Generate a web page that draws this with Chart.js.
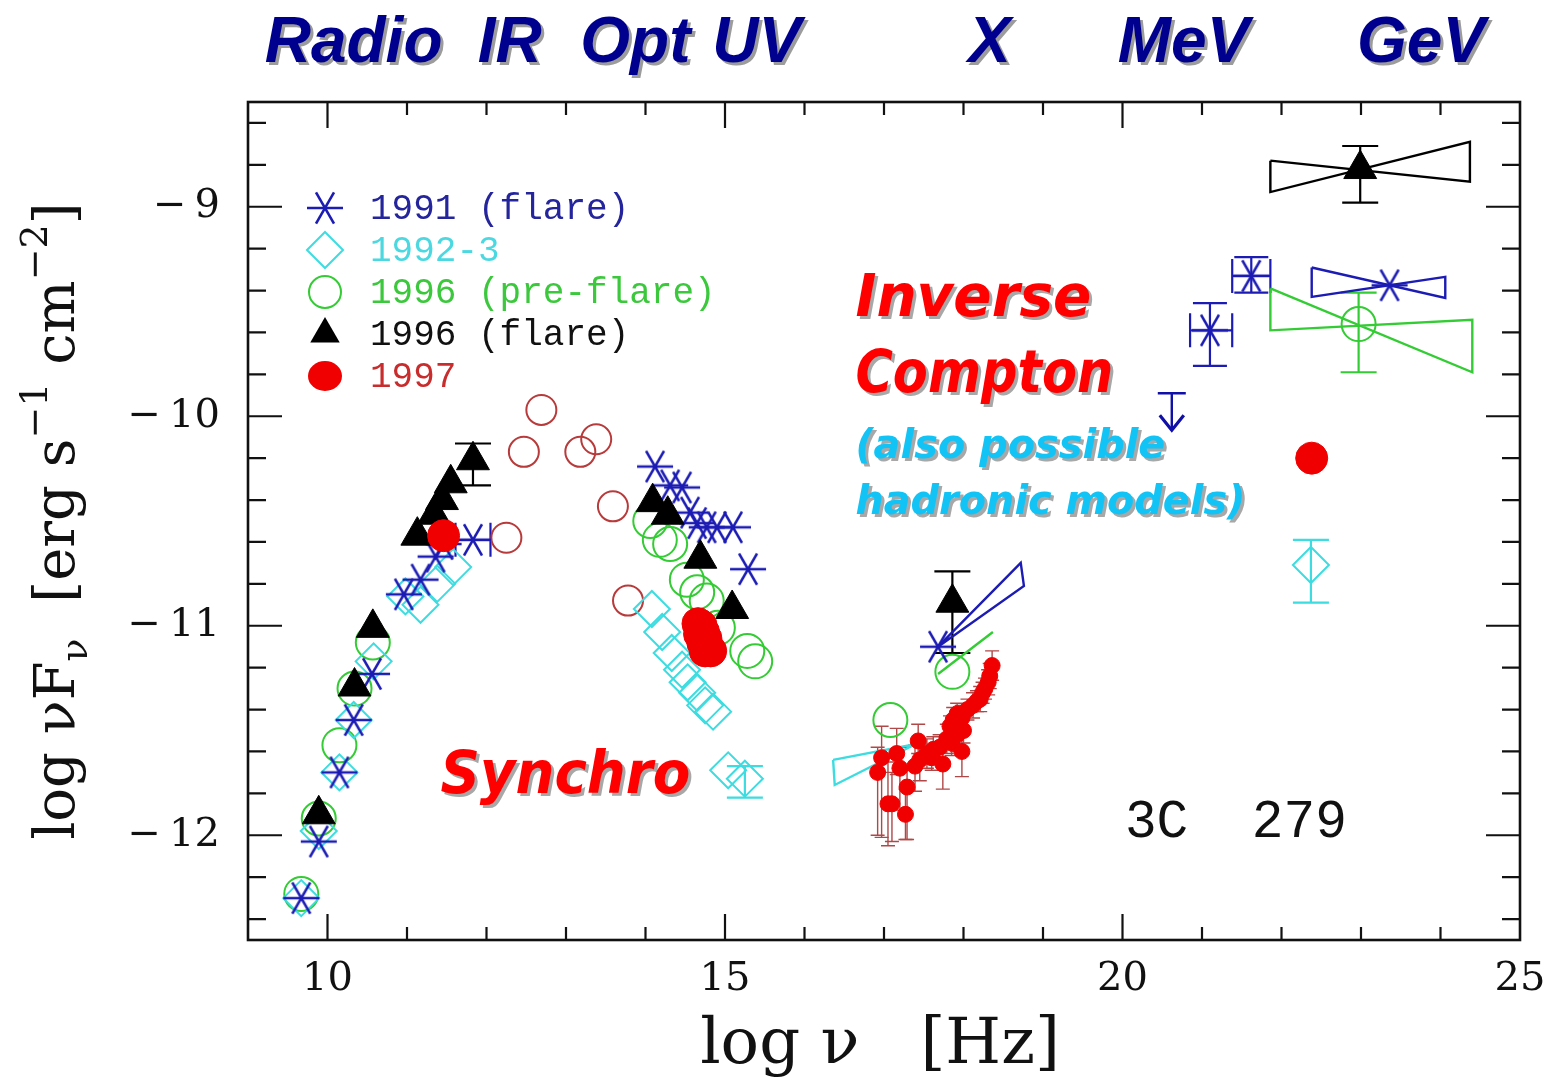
<!DOCTYPE html>
<html>
<head>
<meta charset="utf-8">
<title>3C 279 spectral energy distribution</title>
<script src="https://cdn.jsdelivr.net/npm/chart.js@4.4.1/dist/chart.umd.min.js"></script>
<style>
  html, body { margin: 0; padding: 0; background: #ffffff; }
  canvas { display: block; }
</style>
</head>
<body>
<canvas id="sed" width="1554" height="1077"></canvas>
<script>
// ---------------------------------------------------------------------------
// 3C 279 multiwavelength SED: log nu [Hz] against log nuF_nu [erg s^-1 cm^-2]
// Error extents are [minus, plus], keyed by point index.
// ---------------------------------------------------------------------------

// 1991 (flare) - asterisks
const nu1991   = [9.67, 9.89, 10.15, 10.33, 10.56, 10.96, 11.17, 11.36, 11.46, 11.83,
                  14.12, 14.31, 14.46, 14.56, 14.65, 14.77, 14.90, 15.10, 15.29,
                  17.68, 21.10, 21.62, 23.36];
const flux1991 = [-12.30, -12.03, -11.70, -11.45, -11.23, -10.85, -10.78, -10.67, -10.61, -10.59,
                  -10.24, -10.33, -10.34, -10.46, -10.51, -10.53, -10.53, -10.53, -10.73,
                  -11.10, -9.59, -9.33, -9.375];
const nuErr1991   = { 9: [0.22, 0.22], 20: [0.25, 0.28], 21: [0.24, 0.24] };
const fluxErr1991 = { 20: [0.17, 0.13], 21: [0.08, 0.09] };
const nuLimit1991   = [20.62];
const fluxLimit1991 = [-9.89];
const bowX1991Nu   = [17.68, 18.72, 18.76, 17.68];
const bowX1991Flux = [-11.10, -10.70, -10.81, -11.10];
const bowG1991Nu   = [22.38, 24.06, 24.06, 22.38, 22.38];
const bowG1991Flux = [-9.29, -9.435, -9.335, -9.43, -9.29];

// 1992-3 - diamonds
const nu1992   = [9.67, 9.89, 10.15, 10.33, 10.58, 10.98, 11.17, 11.38, 11.58,
                  14.08, 14.21, 14.33, 14.46, 14.53, 14.65, 14.75, 14.85, 15.04, 15.25,
                  22.37];
const flux1992 = [-12.30, -11.98, -11.70, -11.45, -11.17, -10.86, -10.90, -10.80, -10.72,
                  -10.92, -11.03, -11.13, -11.21, -11.27, -11.32, -11.38, -11.41, -11.69, -11.73,
                  -10.71];
const fluxErr1992 = { 18: [0.09, 0.06], 19: [0.18, 0.12] };
const bowX1992Nu   = [16.36, 17.40, 16.38, 16.36];
const bowX1992Flux = [-11.64, -11.565, -11.76, -11.64];

// 1996 (pre-flare) - open circles
const nu1996p   = [9.67, 9.89, 10.15, 10.34, 10.57,
                   14.06, 14.18, 14.31, 14.52, 14.65, 14.77, 14.91, 15.28, 15.38,
                   17.08, 17.86, 22.97];
const flux1996p = [-12.28, -11.92, -11.57, -11.30, -11.08,
                   -10.50, -10.59, -10.61, -10.78, -10.84, -10.88, -11.01, -11.12, -11.17,
                   -11.45, -11.22, -9.56];
const fluxErr1996p = { 16: [0.23, 0.15] };
const slopeX1996pNu   = [17.68, 18.37];
const slopeX1996pFlux = [-11.23, -11.03];
const bowG1996pNu   = [21.86, 24.40, 24.40, 21.86, 21.86];
const bowG1996pFlux = [-9.39, -9.79, -9.54, -9.59, -9.39];

// 1996 (flare) - filled triangles
const nu1996f   = [9.89, 10.34, 10.57, 11.13, 11.34, 11.44, 11.55, 11.83,
                   14.09, 14.28, 14.69, 15.09, 17.86, 22.99];
const flux1996f = [-11.90, -11.29, -11.01, -10.57, -10.47, -10.40, -10.32, -10.21,
                   -10.41, -10.47, -10.68, -10.92, -10.89, -8.82];
const fluxErr1996f = { 7: [0.12, 0.08], 12: [0.24, 0.15], 13: [0.16, 0.11] };
const bowG1996fNu   = [21.86, 24.37, 24.37, 21.86, 21.86];
const bowG1996fFlux = [-8.78, -8.88, -8.69, -8.93, -8.78];

// 1997 - filled circles (radio, optical, gamma)
const nu1997   = [11.46, 14.66, 14.70, 14.73, 14.68, 14.76, 14.72, 14.78, 14.82, 14.75, 22.38];
const flux1997 = [-10.57, -10.99, -11.00, -11.03, -11.04, -11.06, -11.08, -11.10, -11.12, -11.12, -10.20];

// 1997 - X-ray spectrum
const nuX1997   = [18.36, 18.33, 18.31, 18.27, 18.24, 18.21, 18.17, 18.12, 18.05, 17.98,
                   17.92, 17.87, 17.83, 17.92, 17.79, 17.70, 17.62, 17.98, 17.54, 17.43,
                   17.45, 17.74, 17.39, 17.16, 17.20, 16.97, 16.92, 17.29, 17.05, 17.10,
                   17.27, 17.60, 17.85, 18.00];
const fluxX1997 = [-11.19, -11.24, -11.27, -11.30, -11.32, -11.35, -11.36, -11.38, -11.40, -11.44,
                   -11.42, -11.45, -11.48, -11.52, -11.54, -11.58, -11.59, -11.60, -11.61, -11.55,
                   -11.64, -11.66, -11.67, -11.61, -11.68, -11.63, -11.70, -11.77, -11.85, -11.85,
                   -11.90, -11.63, -11.56, -11.50];
const errLoX1997 = [0.07, 0.06, 0.06, 0.05, 0.05, 0.06, 0.05, 0.06, 0.05, 0.06,
                    0.05, 0.06, 0.05, 0.08, 0.07, 0.06, 0.06, 0.12, 0.07, 0.06,
                    0.10, 0.12, 0.12, 0.10, 0.20, 0.38, 0.30, 0.25, 0.20, 0.18,
                    0.12, 0.06, 0.06, 0.06];
const errHiX1997 = [0.07, 0.06, 0.06, 0.05, 0.05, 0.06, 0.05, 0.06, 0.05, 0.06,
                    0.05, 0.06, 0.05, 0.08, 0.07, 0.06, 0.06, 0.10, 0.07, 0.08,
                    0.08, 0.08, 0.10, 0.12, 0.10, 0.15, 0.12, 0.10, 0.20, 0.15,
                    0.12, 0.06, 0.06, 0.06];

// earlier far-IR / optical points (open circles, not in the key)
const nuEarly   = [12.25, 12.47, 12.69, 13.18, 13.38, 13.59, 13.78];
const fluxEarly = [-10.58, -10.17, -9.97, -10.17, -10.11, -10.43, -10.88];

// axes
const xTickLabels = [10, 15, 20, 25];
const yTickLabels = [-9, -10, -11, -12];

// waveband names along the top and where they start (log nu)
const bandNames = ['Radio', 'IR', 'Opt', 'UV', 'X', 'MeV', 'GeV'];
const bandStart = [9.21, 11.89, 13.18, 14.84, 18.06, 19.94, 22.95];

// ---------------------------------------------------------------------------
const BLUE = '#1c1cb4', CYAN = '#3cdce0', GREEN = '#34cc34', BLACK = '#000000',
      RED = '#f00000', BROWN = '#b83a3a', BAND_BLUE = '#00008e';

function makeAsterisk(color, size, lw) {
  const c = document.createElement('canvas');
  c.width = size; c.height = size;
  const g = c.getContext('2d');
  g.strokeStyle = color; g.lineWidth = lw;
  const m = size / 2, r = size / 2 - 1;
  for (const deg of [0, 60, 120]) {
    const t = deg * Math.PI / 180;
    g.beginPath();
    g.moveTo(m - r * Math.cos(t), m - r * Math.sin(t));
    g.lineTo(m + r * Math.cos(t), m + r * Math.sin(t));
    g.stroke();
  }
  return c;
}
const STAR = makeAsterisk(BLUE, 38, 2.6);

const pts = (xs, ys) => xs.map((x, i) => ({ x, y: ys[i] }));

function markerSet(label, xs, ys, style) {
  return Object.assign({ label, data: pts(xs, ys), showLine: false, pointBorderWidth: 2 }, style);
}
function outline(label, xs, ys, color) {
  return { label, data: pts(xs, ys), showLine: true, pointRadius: 0, borderColor: color,
           borderWidth: 2.4, fill: false, tension: 0 };
}

// first dataset is drawn on top
const datasets = [
  markerSet('1997', nu1997, flux1997,
    { pointStyle: 'circle', pointRadius: 16, backgroundColor: RED, borderColor: RED, pointBorderWidth: 1 }),
  markerSet('1997 X-ray', nuX1997, fluxX1997,
    { pointStyle: 'circle', pointRadius: 8, backgroundColor: RED, borderColor: RED, pointBorderWidth: 1 }),
  markerSet('1996 (flare)', nu1996f, flux1996f,
    { pointStyle: 'triangle', pointRadius: 19, backgroundColor: BLACK, borderColor: BLACK, pointBorderWidth: 1 }),
  markerSet('1991 (flare)', nu1991, flux1991,
    { pointStyle: STAR, pointRadius: 19, backgroundColor: 'rgba(0,0,0,0)', borderColor: BLUE }),
  markerSet('1992-3', nu1992, flux1992,
    { pointStyle: 'rectRot', pointRadius: 18, backgroundColor: 'rgba(0,0,0,0)', borderColor: CYAN }),
  markerSet('1996 (pre-flare)', nu1996p, flux1996p,
    { pointStyle: 'circle', pointRadius: 17, backgroundColor: 'rgba(0,0,0,0)', borderColor: GREEN }),
  markerSet('earlier', nuEarly, fluxEarly,
    { pointStyle: 'circle', pointRadius: 15, backgroundColor: 'rgba(0,0,0,0)', borderColor: BROWN }),
  outline('1991 X-ray slope', bowX1991Nu, bowX1991Flux, BLUE),
  outline('1991 gamma slope', bowG1991Nu, bowG1991Flux, BLUE),
  outline('1992-3 X-ray slope', bowX1992Nu, bowX1992Flux, CYAN),
  outline('1996 pre-flare X-ray slope', slopeX1996pNu, slopeX1996pFlux, GREEN),
  outline('1996 pre-flare gamma slope', bowG1996pNu, bowG1996pFlux, GREEN),
  outline('1996 flare gamma slope', bowG1996fNu, bowG1996fFlux, BLACK)
];

// ---------------------------------------------------------------------------
function drawErrors(ctx, chart, xs, ys, xErr, yErr, color, cap, lw) {
  const sx = chart.scales.x, sy = chart.scales.y;
  ctx.save();
  ctx.strokeStyle = color; ctx.lineWidth = lw;
  xs.forEach((v, i) => {
    const px = sx.getPixelForValue(v), py = sy.getPixelForValue(ys[i]);
    const ex = xErr && xErr[i], ey = yErr && yErr[i];
    ctx.beginPath();
    if (ex) {
      const a = sx.getPixelForValue(v - ex[0]), b = sx.getPixelForValue(v + ex[1]);
      ctx.moveTo(a, py); ctx.lineTo(b, py);
      ctx.moveTo(a, py - cap); ctx.lineTo(a, py + cap);
      ctx.moveTo(b, py - cap); ctx.lineTo(b, py + cap);
    }
    if (ey) {
      const a = sy.getPixelForValue(ys[i] - ey[0]), b = sy.getPixelForValue(ys[i] + ey[1]);
      ctx.moveTo(px, a); ctx.lineTo(px, b);
      ctx.moveTo(px - cap, a); ctx.lineTo(px + cap, a);
      ctx.moveTo(px - cap, b); ctx.lineTo(px + cap, b);
    }
    ctx.stroke();
  });
  ctx.restore();
}

function drawMarker(ctx, kind, x, y) {
  ctx.save();
  ctx.lineWidth = 2;
  ctx.beginPath();
  if (kind === 'star') {
    ctx.drawImage(STAR, x - STAR.width / 2, y - STAR.height / 2);
  } else if (kind === 'diamond') {
    ctx.strokeStyle = CYAN;
    ctx.moveTo(x - 18, y); ctx.lineTo(x, y - 18); ctx.lineTo(x + 18, y); ctx.lineTo(x, y + 18);
    ctx.closePath(); ctx.stroke();
  } else if (kind === 'ring') {
    ctx.strokeStyle = GREEN;
    ctx.arc(x, y, 16, 0, Math.PI * 2); ctx.stroke();
  } else if (kind === 'triangle') {
    ctx.fillStyle = BLACK;
    const r = 17;
    ctx.moveTo(x, y - r); ctx.lineTo(x + r * 0.866, y + r / 2); ctx.lineTo(x - r * 0.866, y + r / 2);
    ctx.closePath(); ctx.fill();
  } else if (kind === 'dot') {
    ctx.fillStyle = RED;
    ctx.ellipse(x, y, 17, 15, 0, 0, Math.PI * 2); ctx.fill();
  }
  ctx.restore();
}

const legendRows = [
  { text: '1991 (flare)',      marker: 'star',     color: '#24249c' },
  { text: '1992-3',            marker: 'diamond',  color: '#4cd8e0' },
  { text: '1996 (pre-flare)',  marker: 'ring',     color: '#3cc83c' },
  { text: '1996 (flare)',      marker: 'triangle', color: '#111111' },
  { text: '1997',              marker: 'dot',      color: '#c82c2c' }
];

function shadowText(ctx, text, x, y, color, shadow, off, maxW) {
  ctx.fillStyle = shadow;
  if (maxW) ctx.fillText(text, x + off, y + off, maxW); else ctx.fillText(text, x + off, y + off);
  ctx.fillStyle = color;
  if (maxW) ctx.fillText(text, x, y, maxW); else ctx.fillText(text, x, y);
}

const sedDecor = {
  id: 'sedDecor',
  beforeDatasetsDraw(chart) {
    const ctx = chart.ctx;
    drawErrors(ctx, chart, nuX1997, fluxX1997, null,
      nuX1997.map((_, i) => [errLoX1997[i], errHiX1997[i]]), '#b04848', 7, 1.4);
    drawErrors(ctx, chart, nu1991, flux1991, nuErr1991, fluxErr1991, BLUE, 17, 2.2);
    drawErrors(ctx, chart, nu1992, flux1992, null, fluxErr1992, CYAN, 18, 2.2);
    drawErrors(ctx, chart, nu1996p, flux1996p, null, fluxErr1996p, GREEN, 18, 2.2);
    drawErrors(ctx, chart, nu1996f, flux1996f, null, fluxErr1996f, BLACK, 18, 2.2);
  },
  afterDatasetsDraw(chart) {
    const ctx = chart.ctx, sx = chart.scales.x, sy = chart.scales.y;
    const { left, right, top, bottom } = chart.chartArea;

    // upper limit (1991)
    ctx.save();
    ctx.strokeStyle = '#1010a8'; ctx.lineWidth = 2.4;
    nuLimit1991.forEach((v, i) => {
      const x = sx.getPixelForValue(v), y = sy.getPixelForValue(fluxLimit1991[i]);
      ctx.beginPath();
      ctx.moveTo(x - 14, y); ctx.lineTo(x + 14, y);
      ctx.moveTo(x, y); ctx.lineTo(x, y + 36);
      ctx.stroke();
      ctx.lineWidth = 3.2;
      ctx.beginPath();
      ctx.moveTo(x - 12, y + 22); ctx.lineTo(x, y + 37); ctx.lineTo(x + 12, y + 22);
      ctx.stroke();
    });
    ctx.restore();

    // frame and inward ticks on all four sides
    ctx.save();
    ctx.strokeStyle = '#111'; ctx.lineWidth = 2.6;
    ctx.strokeRect(left, top, right - left, bottom - top);
    ctx.lineWidth = 2.2;
    ctx.beginPath();
    for (let v = Math.ceil(sx.min + 1e-9); v < sx.max; v++) {
      const p = sx.getPixelForValue(v);
      const len = v % 5 === 0 ? 26 : 13;
      ctx.moveTo(p, bottom); ctx.lineTo(p, bottom - len);
      ctx.moveTo(p, top); ctx.lineTo(p, top + len);
    }
    for (let k = Math.ceil((sy.min + 1e-9) * 5); k < sy.max * 5 - 1e-9; k++) {
      const v = k / 5, p = sy.getPixelForValue(v);
      const len = k % 5 === 0 ? 34 : 18;
      ctx.moveTo(left, p); ctx.lineTo(left + len, p);
      ctx.moveTo(right, p); ctx.lineTo(right - len, p);
    }
    ctx.stroke();
    ctx.restore();

    // key
    ctx.save();
    ctx.font = '36px "Liberation Mono", "DejaVu Sans Mono", monospace';
    ctx.textBaseline = 'middle';
    legendRows.forEach((row, i) => {
      const y = top + 106 + i * 42;
      drawMarker(ctx, row.marker, left + 77, y);
      ctx.fillStyle = row.color;
      ctx.fillText(row.text, left + 122, y + 1);
    });
    ctx.restore();

    // annotations
    ctx.save();
    ctx.textBaseline = 'alphabetic';
    const X = v => sx.getPixelForValue(v), Y = v => sy.getPixelForValue(v);
    ctx.font = 'italic bold 58px "DejaVu Sans", sans-serif';
    shadowText(ctx, 'Inverse', X(16.64), Y(-9.52), '#ff0000', '#a8a8a8', 3, 236);
    shadowText(ctx, 'Compton', X(16.64), Y(-9.885), '#ff0000', '#a8a8a8', 3, 258);
    shadowText(ctx, 'Synchro', X(11.42), Y(-11.80), '#ff0000', '#a8a8a8', 3, 250);
    ctx.font = 'italic bold 40px "DejaVu Sans", sans-serif';
    shadowText(ctx, '(also possible', X(16.64), Y(-10.20), '#12c4f6', '#a8a8a8', 3, 310);
    shadowText(ctx, 'hadronic models)', X(16.64), Y(-10.465), '#12c4f6', '#a8a8a8', 3, 390);
    ctx.font = '54px "Liberation Mono", "DejaVu Sans Mono", monospace';
    ctx.fillStyle = '#111';
    ctx.fillText('3C  279', X(20.03), Y(-12.01), 222);
    ctx.restore();
  },
  afterDraw(chart) {
    const ctx = chart.ctx, sx = chart.scales.x;
    const { top, bottom } = chart.chartArea;

    // waveband names
    ctx.save();
    ctx.font = 'italic bold 64px "Liberation Sans", Arial, sans-serif';
    ctx.textBaseline = 'alphabetic';
    bandNames.forEach((name, i) => {
      shadowText(ctx, name, sx.getPixelForValue(bandStart[i]), 62, BAND_BLUE, '#9c9c9c', 3);
    });
    ctx.restore();

    // x title
    ctx.save();
    ctx.font = '64px "DejaVu Serif", serif';
    ctx.fillStyle = '#111';
    ctx.textAlign = 'center';
    ctx.textBaseline = 'alphabetic';
    ctx.fillText('log \u03BD   [Hz]', 880, 1063, 362);
    ctx.restore();

    // y title (rotated, with sub/superscripts)
    ctx.save();
    ctx.translate(74, (top + bottom) / 2);
    ctx.rotate(-Math.PI / 2);
    ctx.fillStyle = '#111';
    ctx.textBaseline = 'alphabetic';
    const parts = [
      ['log \u03BDF', 56, 0], ['\u03BD', 38, 13], ['  [erg s', 56, 0],
      ['\u22121', 38, -27], [' cm', 56, 0], ['\u22122', 38, -27], [']', 56, 0]
    ];
    let total = 0;
    parts.forEach(p => { ctx.font = p[1] + 'px "DejaVu Serif", serif'; total += ctx.measureText(p[0]).width; });
    const scale = Math.min(1, 645 / total);
    ctx.scale(scale, 1);
    let x = -total / 2;
    parts.forEach(p => {
      ctx.font = p[1] + 'px "DejaVu Serif", serif';
      ctx.fillText(p[0], x, p[2]);
      x += ctx.measureText(p[0]).width;
    });
    ctx.restore();
  }
};

new Chart(document.getElementById('sed'), {
  type: 'scatter',
  data: { datasets },
  options: {
    responsive: false,
    animation: false,
    devicePixelRatio: 1,
    events: [],
    layout: { padding: { top: 102, right: 34, bottom: 0, left: 0 } },
    plugins: { legend: { display: false }, tooltip: { enabled: false } },
    scales: {
      x: {
        type: 'linear', position: 'bottom', min: 9, max: 25,
        grid: { display: false, drawTicks: false },
        border: { display: false },
        ticks: {
          stepSize: 5, autoSkip: false, maxRotation: 0, padding: 16, color: '#111',
          font: { family: '"DejaVu Serif", serif', size: 40 },
          callback: v => xTickLabels.includes(v) ? String(v) : ''
        },
        afterFit: s => { s.height = 137; s.paddingLeft = 0; s.paddingRight = 0; }
      },
      y: {
        type: 'linear', min: -12.5, max: -8.5,
        grid: { display: false, drawTicks: false },
        border: { display: false },
        ticks: {
          stepSize: 0.5, autoSkip: false, padding: 28, color: '#111',
          font: { family: '"DejaVu Serif", serif', size: 40 },
          callback: v => yTickLabels.includes(v) ? '\u2212\u2009' + Math.abs(v) : ''
        },
        afterFit: s => { s.width = 248; s.paddingTop = 0; s.paddingBottom = 0; }
      }
    }
  },
  plugins: [sedDecor]
});
</script>
</body>
</html>
